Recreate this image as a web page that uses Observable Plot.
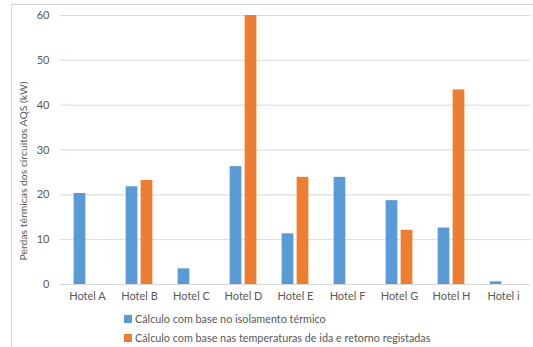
<!DOCTYPE html>
<html>
<head>
<meta charset="utf-8">
<script src="https://cdn.jsdelivr.net/npm/d3@7"></script>
<script src="https://cdn.jsdelivr.net/npm/@observablehq/plot@0.6"></script>
<style>
  html, body { margin: 0; padding: 0; background: #fff; }
  body { width: 533px; height: 347px; position: relative; overflow: hidden; font-family: Lato, "Open Sans", sans-serif; }
  #frame { position: absolute; left: 11px; top: 4px; width: 600px; height: 400px; border-left: 1px solid #d9d9d9; border-top: 1px solid #d9d9d9; }
  #chart { position: absolute; left: 0; top: 0; }
  #ylabel { position: absolute; left: 23px; top: 171px; transform: translate(-50%, -50%) rotate(-90deg); white-space: nowrap; font-size: 10.4px; color: #595959; }
  #legend { position: absolute; left: 124px; top: 310px; font-size: 10.8px; color: #595959; }
  .row { height: 18.5px; line-height: 18.5px; display: flex; align-items: center; }
  .sw { width: 8px; height: 8px; margin-right: 3px; display: inline-block; }
</style>
</head>
<body>
<div id="frame"></div>
<div id="chart"></div>
<div id="ylabel"></div>
<div id="legend"></div>
<script>
const hotels = ["Hotel A","Hotel B","Hotel C","Hotel D","Hotel E","Hotel F","Hotel G","Hotel H","Hotel i"];
const seriesNames = [
  "Cálculo com base no isolamento térmico",
  "Cálculo com base nas temperaturas de ida e retorno registadas"
];
const isolamento = [20.3, 21.8, 3.5, 26.3, 11.3, 23.9, 18.7, 12.6, 0.6];
const temperaturas = [null, 23.2, null, 60.0, 23.9, null, 12.1, 43.4, null];
const colors = ["#5B9BD5", "#ED7D31"];
const yTicks = [0, 10, 20, 30, 40, 50, 60];
const yLabel = "Perdas térmicas dos circuitos AQS (kW)";

const data = [];
hotels.forEach((h, i) => {
  if (isolamento[i] != null) data.push({hotel: h, series: seriesNames[0], value: isolamento[i]});
  if (temperaturas[i] != null) data.push({hotel: h, series: seriesNames[1], value: temperaturas[i]});
});

const step = (530.5 - 60) / hotels.length;
const half = step / 2;
const barW = 12, gap = 3;

const plot = Plot.plot({
  width: 533,
  height: 310,
  marginTop: 15,
  marginBottom: 26,
  marginLeft: 60,
  marginRight: 2.5,
  style: {fontFamily: "Lato, 'Open Sans', sans-serif", fontSize: "11px", color: "#595959", background: "transparent"},
  x: {domain: hotels, padding: 0, label: null, tickSize: 0, tickPadding: 8},
  y: {domain: [0, 60], ticks: yTicks, label: null, tickSize: 0, tickPadding: 11},
  color: {domain: seriesNames, range: colors},
  marks: [
    Plot.ruleY(yTicks, {stroke: "#d9d9d9", strokeWidth: 1}),
    Plot.barY(data.filter(d => d.series === seriesNames[0]), {
      x: "hotel", y: "value", fill: "series",
      insetLeft: half - barW - gap / 2, insetRight: half + gap / 2
    }),
    Plot.barY(data.filter(d => d.series === seriesNames[1]), {
      x: "hotel", y: "value", fill: "series",
      insetLeft: half + gap / 2, insetRight: half - barW - gap / 2
    })
  ]
});
plot.querySelectorAll("[aria-label='x-axis'] path, [aria-label='y-axis'] path").forEach(p => p.remove());
document.getElementById("chart").appendChild(plot);
document.getElementById("ylabel").textContent = yLabel;

const legend = document.getElementById("legend");
seriesNames.forEach((s, i) => {
  const row = document.createElement("div");
  row.className = "row";
  const sw = document.createElement("span");
  sw.className = "sw";
  sw.style.background = colors[i];
  row.appendChild(sw);
  row.appendChild(document.createTextNode(s));
  legend.appendChild(row);
});
</script>
</body>
</html>
